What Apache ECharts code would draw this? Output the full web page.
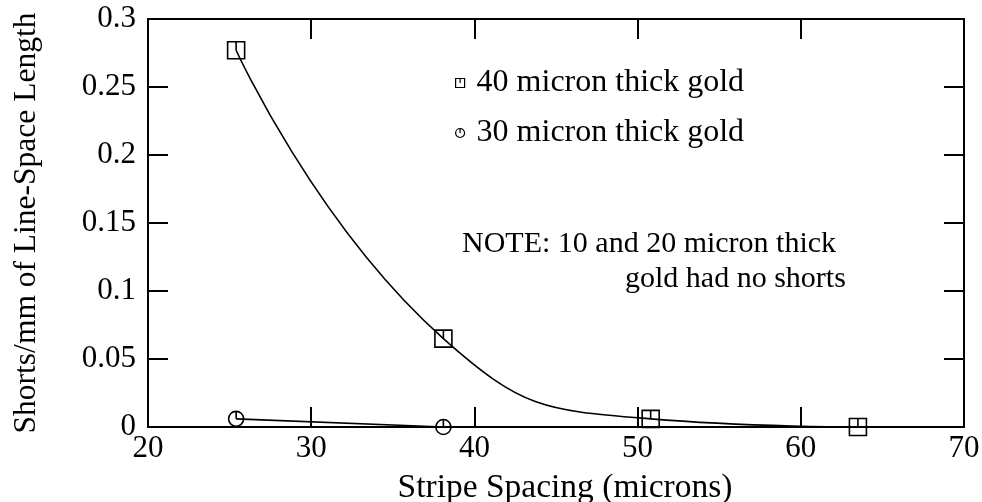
<!DOCTYPE html>
<html>
<head>
<meta charset="utf-8">
<script src="https://cdn.jsdelivr.net/npm/echarts@6/dist/echarts.min.js"></script>
<style>
  html, body { margin: 0; padding: 0; background: #fff; }
  #chart { width: 982px; height: 502px; }
</style>
</head>
<body>
<div id="chart"></div>
<script>
// Stripe spacing (microns) and measured short density per gold thickness
const spacing40 = [25.4, 38.1, 50.8, 63.5];
const shorts40 = [0.277, 0.065, 0.006, 0];
const spacing30 = [25.4, 38.1];
const shorts30 = [0.006, 0];

const seriesNames = ['40 micron thick gold', '30 micron thick gold'];
const noteLines = ['NOTE: 10 and 20 micron thick', 'gold had no shorts'];

// Open markers with a stroke from the top edge to the centre
const squareMark = 'path://M0,0 L16,0 L16,16 L0,16 Z M8,0 L8,8';
const circleMark = 'path://M8,0 A8,8 0 1,1 7.999,0 Z M8,0 L8,8';

const FONT = 'Liberation Serif';
const markStyle = { color: 'rgba(0,0,0,0)', borderColor: '#000', borderWidth: 1.6 };

const toPairs = (xs, ys) => xs.map((x, i) => [x, ys[i]]);

const chart = echarts.init(document.getElementById('chart'));

const axisCommon = {
  type: 'value',
  axisLine: { show: true, onZero: false, lineStyle: { color: '#000', width: 2 } },
  axisTick: { show: true, inside: true, length: 20, lineStyle: { color: '#000', width: 2 } },
  splitLine: { show: false },
  axisLabel: { color: '#000', fontFamily: FONT, fontSize: 31 }
};

chart.setOption({
  animation: false,
  backgroundColor: '#fff',
  grid: { left: 148, right: 18, top: 19, bottom: 75, containLabel: false, outerBoundsMode: 'none' },
  xAxis: [
    Object.assign({}, axisCommon, {
      min: 20, max: 70, interval: 10, position: 'bottom',
      axisLabel: Object.assign({}, axisCommon.axisLabel, { margin: 6 }),
      name: 'Stripe Spacing (microns)', nameLocation: 'middle', nameGap: 44,
      nameTextStyle: { color: '#000', fontFamily: FONT, fontSize: 33.5, padding: [0, 0, 0, 18] }
    }),
    Object.assign({}, axisCommon, {
      min: 20, max: 70, interval: 10, position: 'top',
      axisLabel: { show: false }
    })
  ],
  yAxis: [
    Object.assign({}, axisCommon, {
      min: 0, max: 0.3, interval: 0.05, position: 'left',
      axisLabel: Object.assign({}, axisCommon.axisLabel, { margin: 12 }),
      name: 'Shorts/mm of Line-Space Length', nameLocation: 'middle', nameGap: 105,
      nameTextStyle: { color: '#000', fontFamily: FONT, fontSize: 31.5 }
    }),
    Object.assign({}, axisCommon, {
      min: 0, max: 0.3, interval: 0.05, position: 'right',
      axisLabel: { show: false }
    })
  ],
  legend: {
    orient: 'vertical',
    left: 450, top: 62,
    itemWidth: 9, itemHeight: 9, itemGap: 18,
    textStyle: { color: '#000', fontFamily: FONT, fontSize: 32, padding: [0, 0, 0, 7] },
    itemStyle: { color: 'rgba(0,0,0,0)', borderColor: '#000', borderWidth: 1.2 },
    data: [
      { name: seriesNames[0], icon: squareMark },
      { name: seriesNames[1], icon: circleMark }
    ]
  },
  graphic: [
    { type: 'text', left: 462, top: 229, style: { text: noteLines[0], font: '30px "' + FONT + '"', fill: '#000' } },
    { type: 'text', left: 625, top: 264, style: { text: noteLines[1], font: '30px "' + FONT + '"', fill: '#000' } }
  ],
  series: [
    {
      name: seriesNames[0], type: 'line',
      data: toPairs(spacing40, shorts40),
      smooth: 0.5,
      symbol: squareMark, symbolSize: 17,
      lineStyle: { color: '#000', width: 1.6 },
      itemStyle: markStyle,
      z: 3
    },
    {
      name: seriesNames[1], type: 'line',
      data: toPairs(spacing30, shorts30),
      symbol: circleMark, symbolSize: 15,
      lineStyle: { color: '#000', width: 1.6 },
      itemStyle: markStyle,
      z: 3
    }
  ]
});
</script>
</body>
</html>
